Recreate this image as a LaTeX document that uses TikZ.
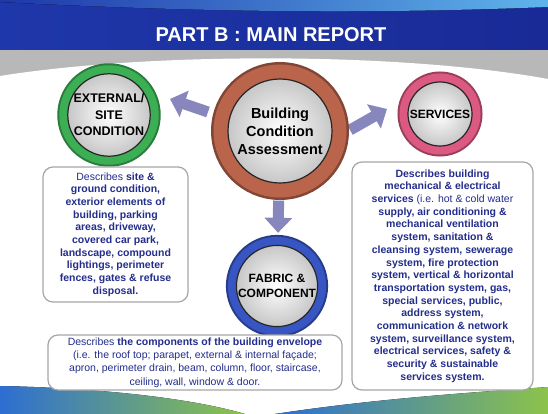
\documentclass[tikz,border=0pt]{standalone}
\usepackage{fontspec}
\setmainfont{Liberation Sans}
\usetikzlibrary{arrows.meta}
\definecolor{hdrleft}{RGB}{30,55,170}
\definecolor{hdrmid}{RGB}{14,24,112}
\definecolor{hdrright}{RGB}{25,42,150}
\definecolor{streak}{RGB}{95,180,235}
\definecolor{bandgray}{RGB}{184,184,184}
\definecolor{descblue}{RGB}{35,45,140}
\definecolor{arrowcol}{RGB}{135,135,190}
\definecolor{ringgreen}{RGB}{60,175,85}
\definecolor{ringbrown}{RGB}{185,100,75}
\definecolor{ringpink}{RGB}{220,90,130}
\definecolor{ringblue}{RGB}{55,85,195}
\definecolor{swblue}{RGB}{45,110,210}
\definecolor{swgreen}{RGB}{140,195,75}
\tikzset{
  disc/.style={circle, inner sep=0pt, draw=black!85, line width=1.2pt,
    inner color=white, outer color=black!22, align=center, text=black},
  ringed/.style n args={3}{preaction={draw=#1!70!black, line width=#2},
    preaction={draw=#1, line width=#3}},
  descbox/.style={draw=black!35, line width=1.2pt, rounded corners=10pt,
    fill=white, text=descblue, align=center, inner sep=0pt,
    font=\fontsize{10.5}{12.7}\selectfont},
  bigarrow/.style={draw=arrowcol, line width=11pt,
    -{Triangle[length=15pt,width=27pt]}}
}
\begin{document}
\begin{tikzpicture}[x=1pt,y=-1pt]
  \useasboundingbox (0,0) rectangle (548,414);
  \fill[left color=bandgray, middle color=black!20, right color=bandgray] (0,50) rectangle (548,82);
  \fill[white] (0,76) .. controls (150,52) and (400,52) .. (548,79) -- (548,414) -- (0,414) -- cycle;
  \fill[left color=hdrleft, middle color=hdrmid, right color=hdrright] (0,0) rectangle (548,50);
  \fill[left color=hdrleft, right color=streak] (0,0) -- (548,0) -- (548,7) .. controls (420,12) and (250,15) .. (0,2) -- cycle;
  \fill[left color=swblue, right color=swgreen] (0,386) .. controls (100,388) and (190,398) .. (245,414) -- (0,414) -- cycle;
  \fill[left color=swblue, right color=swgreen] (275,414) .. controls (380,398) and (480,392) .. (548,387) -- (548,414) -- cycle;
  \node[font=\fontsize{20}{24}\selectfont\bfseries, text=white] (title) at (271,35) {PART B : MAIN REPORT};

  \coordinate (lefttail) at (208,112);
  \coordinate (lefttip) at (170,99);
  \coordinate (righttail) at (350,130);
  \coordinate (righttip) at (387,109);
  \draw[bigarrow] (lefttail) -- (lefttip);
  \draw[bigarrow] (righttail) -- (righttip);

  \node[disc, ringed={ringbrown}{34pt}{29pt}, minimum size=104pt,
    font=\fontsize{14.5}{18}\selectfont\bfseries] (bca) at (280,131) {Building\\Condition\\Assessment};
  \node[disc, ringed={ringgreen}{21pt}{17pt}, minimum size=64pt,
    font=\fontsize{12.5}{16.5}\selectfont\bfseries] (ext) at (109,115) {EXTERNAL/\\SITE\\CONDITION};
  \node[disc, ringed={ringpink}{21pt}{17pt}, minimum size=64pt,
    font=\fontsize{12}{15}\selectfont\bfseries] (svc) at (440,114) {SERVICES};
  \node[disc, ringed={ringblue}{21pt}{17pt}, minimum size=64pt,
    font=\fontsize{12}{15}\selectfont\bfseries] (fab) at (277,286) {FABRIC \&\\COMPONENT};
  \draw[bigarrow, shorten <=17pt, shorten >=12pt] (bca) -- (fab);

  \node[descbox, minimum width=145pt, minimum height=135pt] (extdesc) at (115.5,234.5)
    {{\mdseries Describes} \bfseries site \&\\ \bfseries ground condition,\\ \bfseries exterior elements of\\
     \bfseries building, parking\\ \bfseries areas, driveway,\\ \bfseries covered car park,\\
     \bfseries landscape, compound\\ \bfseries lightings, perimeter\\ \bfseries fences, gates \& refuse\\
     \bfseries disposal.};
  \node[descbox, minimum width=181pt, minimum height=228pt] (svcdesc) at (442.5,276)
    {\bfseries Describes building\\ \bfseries mechanical \& electrical\\
     \bfseries services {\mdseries (i.e. hot \& cold water}\\ \bfseries supply, air conditioning \&\\
     \bfseries mechanical ventilation\\ \bfseries system, sanitation \&\\ \bfseries cleansing system, sewerage\\
     \bfseries system, fire protection\\ \bfseries system, vertical \& horizontal\\
     \bfseries transportation system, gas,\\ \bfseries special services, public,\\ \bfseries address system,\\
     \bfseries communication \& network\\ \bfseries system, surveillance system,\\
     \bfseries electrical services, safety \&\\ \bfseries security \& sustainable\\ \bfseries services system.};
  \node[descbox, minimum width=294pt, minimum height=55pt,
    font=\fontsize{10.5}{13.2}\selectfont] (fabdesc) at (195,362.5)
    {Describes \textbf{the components of the building envelope}\\
     (i.e. the roof top; parapet, external \& internal façade;\\
     apron, perimeter drain, beam, column, floor, staircase,\\
     ceiling, wall, window \& door.};
\end{tikzpicture}
\end{document}
